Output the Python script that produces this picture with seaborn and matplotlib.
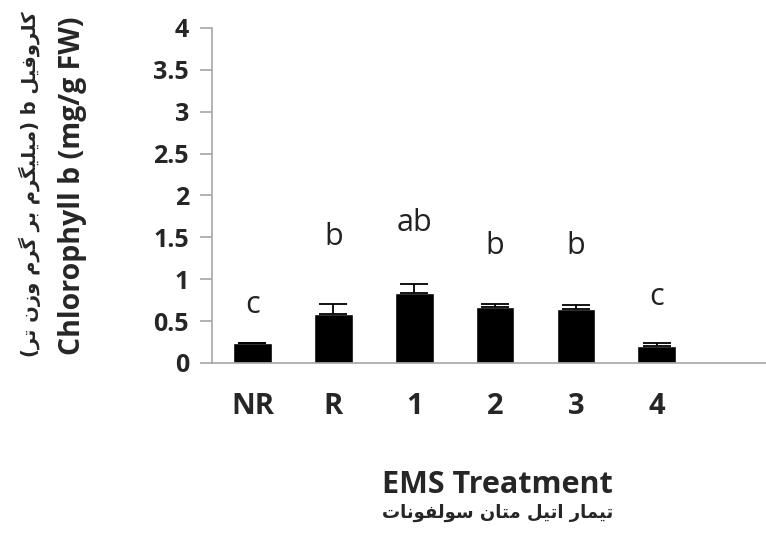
import matplotlib
matplotlib.use('Agg')
import matplotlib.pyplot as plt
import pandas as pd
import seaborn as sns

treatments = ['NR', 'R', '1', '2', '3', '4']
chl_b = [0.24, 0.59, 0.84, 0.67, 0.65, 0.20]
chl_b_err = [0.0, 0.12, 0.10, 0.04, 0.04, 0.04]
letters = ['c', 'b', 'ab', 'b', 'b', 'c']
letter_y = [0.69, 1.50, 1.67, 1.40, 1.40, 0.79]
y_ticks = [0, 0.5, 1, 1.5, 2, 2.5, 3, 3.5, 4]
y_tick_labels = ['0', '0.5', '1', '1.5', '2', '2.5', '3', '3.5', '4']

ylabel_en = 'Chlorophyll b (mg/g FW)'
ylabel_fa = 'کلروفیل b (میلیگرم بر گرم وزن تر)'
xlabel_en = 'EMS Treatment'
xlabel_fa = 'تیمار اتیل متان سولفونات'

# presentation forms: isolated, final, initial, medial
FORMS = {
    'ا': ('\uFE8D', '\uFE8E', None, None),
    'ب': ('\uFE8F', '\uFE90', '\uFE91', '\uFE92'),
    'ت': ('\uFE95', '\uFE96', '\uFE97', '\uFE98'),
    'ر': ('\uFEAD', '\uFEAE', None, None),
    'ز': ('\uFEAF', '\uFEB0', None, None),
    'س': ('\uFEB1', '\uFEB2', '\uFEB3', '\uFEB4'),
    'ف': ('\uFED1', '\uFED2', '\uFED3', '\uFED4'),
    'ل': ('\uFEDD', '\uFEDE', '\uFEDF', '\uFEE0'),
    'م': ('\uFEE1', '\uFEE2', '\uFEE3', '\uFEE4'),
    'ن': ('\uFEE5', '\uFEE6', '\uFEE7', '\uFEE8'),
    'و': ('\uFEED', '\uFEEE', None, None),
    'ی': ('\uFBFC', '\uFBFD', '\uFBFE', '\uFBFF'),
    'ک': ('\uFB8E', '\uFB8F', '\uFB90', '\uFB91'),
    'گ': ('\uFB92', '\uFB93', '\uFB94', '\uFB95'),
}


def shape_fa(text):
    # matplotlib has no arabic shaping, so join letters and flip to visual order
    out = []
    for i, ch in enumerate(text):
        if ch not in FORMS:
            out.append(ch)
            continue
        prev = text[i - 1] if i > 0 else ''
        nxt = text[i + 1] if i < len(text) - 1 else ''
        join_prev = prev in FORMS and FORMS[prev][2] is not None
        join_next = FORMS[ch][2] is not None and nxt in FORMS
        iso, fin, ini, med = FORMS[ch]
        if join_prev and join_next:
            out.append(med)
        elif join_prev:
            out.append(fin)
        elif join_next:
            out.append(ini)
        else:
            out.append(iso)
    mirror = {'(': ')', ')': '('}
    return ''.join(mirror.get(c, c) for c in reversed(out))


sns.set_style('white')
plt.rcParams['font.family'] = ['Open Sans', 'DejaVu Sans']

df = pd.DataFrame({'treatment': treatments, 'chl_b': chl_b})

fig = plt.figure(figsize=(7.66, 5.35), dpi=100)
ax = fig.add_axes([0.2768, 0.3215, 0.7232, 0.6262])

sns.barplot(data=df, x='treatment', y='chl_b', color='black', width=0.48,
            errorbar=None, ax=ax, saturation=1)
ax.errorbar(range(len(treatments)), chl_b,
            yerr=[[0] * len(chl_b_err), chl_b_err],
            fmt='none', ecolor='black', elinewidth=1.3, capsize=10, capthick=1.3)

for i, (lab, ly) in enumerate(zip(letters, letter_y)):
    ax.text(i, ly, lab, ha='center', va='center', fontsize=22, color='#222222')

ax.set_ylim(0, 4)
ax.set_xlim(-0.5, 6.35)
ax.set_yticks(y_ticks)
ax.set_yticklabels(y_tick_labels, fontsize=18, fontweight='bold')
ax.set_xticks(range(len(treatments)))
ax.set_xticklabels(treatments, fontsize=21, fontweight='bold')
ax.set_xlabel('')
ax.set_ylabel('')

for side in ['top', 'right']:
    ax.spines[side].set_visible(False)
for side in ['left', 'bottom']:
    ax.spines[side].set_color('#a6a6a6')
    ax.spines[side].set_linewidth(1.2)
ax.tick_params(axis='y', direction='out', length=8.6, width=1.2, color='#a6a6a6',
               pad=8, left=True)
ax.tick_params(axis='x', length=0, pad=21)

fig.text(0.094, 0.652, ylabel_en, rotation=90, ha='center', va='center',
         fontsize=20.5, fontweight='bold')
fig.text(0.039, 0.655, shape_fa(ylabel_fa), rotation=90, ha='center', va='center',
         fontsize=14, fontweight='bold', family=['DejaVu Sans'])
fig.text(0.649, 0.093, xlabel_en, ha='center', va='center',
         fontsize=22, fontweight='bold')
fig.text(0.649, 0.041, shape_fa(xlabel_fa), ha='center', va='center',
         fontsize=13, fontweight='bold', family=['DejaVu Sans'])

fig.savefig('out.png', dpi=100, facecolor='white')
